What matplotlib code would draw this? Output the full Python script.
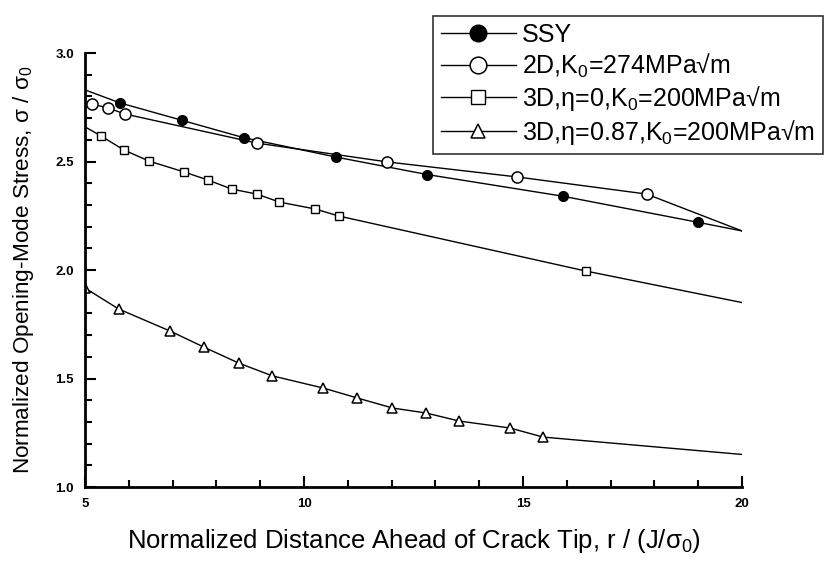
import numpy as np
import matplotlib
matplotlib.use('Agg')
import matplotlib.pyplot as plt
from matplotlib.ticker import MultipleLocator
from matplotlib.lines import Line2D

plt.rcParams['font.family'] = ['Liberation Sans', 'DejaVu Sans']
plt.rcParams['mathtext.fontset'] = 'custom'
plt.rcParams['mathtext.rm'] = 'Liberation Sans'
plt.rcParams['mathtext.it'] = 'Liberation Sans'

# 데이터
ssy_x = [5.0, 5.80, 7.21, 8.62, 10.74, 12.81, 15.91, 18.99, 20.0]
ssy_y = [2.83, 2.77, 2.69, 2.61, 2.52, 2.44, 2.34, 2.22, 2.18]

d2_x = [5.16, 5.52, 5.91, 8.92, 11.90, 14.86, 17.82, 20.0]
d2_y = [2.765, 2.747, 2.719, 2.585, 2.498, 2.429, 2.350, 2.18]

d3a_x = [5.0, 5.36, 5.89, 6.46, 7.26, 7.80, 8.35, 8.92, 9.44, 10.26, 10.79, 16.44, 20.0]
d3a_y = [2.66, 2.618, 2.553, 2.502, 2.452, 2.415, 2.373, 2.350, 2.313, 2.281, 2.249, 1.995, 1.85]

d3b_x = [5.0, 5.77, 6.94, 7.71, 8.51, 9.28, 10.44, 11.22, 12.02, 12.79, 13.54, 14.70, 15.46, 20.0]
d3b_y = [1.917, 1.820, 1.719, 1.645, 1.571, 1.512, 1.456, 1.410, 1.364, 1.341, 1.304, 1.272, 1.230, 1.15]

labels = ['SSY',
          '2D,K$_0$=274MPa\u221am',
          '3D,\u03b7=0,K$_0$=200MPa\u221am',
          '3D,\u03b7=0.87,K$_0$=200MPa\u221am']

fig = plt.figure(figsize=(8.38, 5.62), dpi=100)
ax = fig.add_axes([85 / 838, 75 / 562, 657 / 838, 434 / 562])

lw = 1.0
ax.plot(ssy_x, ssy_y, '-', color='black', lw=lw, marker='o', ms=7,
        mfc='black', mec='black', markevery=list(range(1, len(ssy_x) - 1)))
ax.plot(d2_x, d2_y, '-', color='black', lw=lw, marker='o', ms=8,
        mfc='white', mec='black', mew=1.1, markevery=list(range(0, len(d2_x) - 1)))
ax.plot(d3a_x, d3a_y, '-', color='black', lw=lw, marker='s', ms=5.5,
        mfc='white', mec='black', mew=1.0, markevery=list(range(1, len(d3a_x) - 1)))
ax.plot(d3b_x, d3b_y, '-', color='black', lw=lw, marker='^', ms=6.5,
        mfc='white', mec='black', mew=1.1, markevery=list(range(0, len(d3b_x) - 1)))

ax.set_xlim(5, 20)
ax.set_ylim(1.0, 3.0)
ax.xaxis.set_major_locator(MultipleLocator(5))
ax.xaxis.set_minor_locator(MultipleLocator(1))
ax.yaxis.set_major_locator(MultipleLocator(0.5))
ax.yaxis.set_minor_locator(MultipleLocator(0.1))

for s in ['top', 'right']:
    ax.spines[s].set_visible(False)
for s in ['left', 'bottom']:
    ax.spines[s].set_linewidth(2.0)

ax.tick_params(which='major', direction='in', length=8, width=1.5, labelsize=9.5, pad=8)
ax.tick_params(which='minor', direction='in', length=5, width=1.5)
for t in ax.get_xticklabels() + ax.get_yticklabels():
    t.set_fontweight('bold')

ax.set_xlabel('Normalized Distance Ahead of Crack Tip, r / (J/\u03c3$_0$)',
              fontsize=18.5, labelpad=12)
ax.set_ylabel('Normalized Opening-Mode Stress, \u03c3 / \u03c3$_0$', fontsize=16.2, labelpad=14)

# 범례용 핸들 (마커 크기를 따로 조절)
handles = [
    Line2D([], [], color='black', lw=lw, marker='o', ms=12, mfc='black', mec='black'),
    Line2D([], [], color='black', lw=lw, marker='o', ms=12, mfc='white', mec='black', mew=1.1),
    Line2D([], [], color='black', lw=lw, marker='s', ms=9.5, mfc='white', mec='black', mew=1.0),
    Line2D([], [], color='black', lw=lw, marker='^', ms=10.5, mfc='white', mec='black', mew=1.1),
]
leg = fig.legend(handles, labels, loc='upper right',
                 bbox_to_anchor=(835 / 838, 1 - 3 / 562), bbox_transform=fig.transFigure,
                 fontsize=18, frameon=True, fancybox=False, edgecolor='black',
                 handlelength=3.0, handletextpad=0.25, labelspacing=0.18,
                 borderpad=0.3)
leg.get_frame().set_linewidth(1.2)

fig.savefig('out.png', dpi=100)
